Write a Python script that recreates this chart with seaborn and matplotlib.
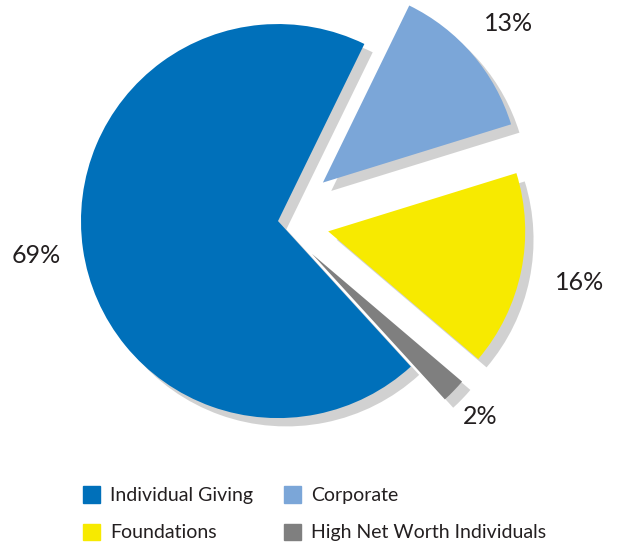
import numpy as np
import matplotlib.pyplot as plt
import matplotlib.patheffects as pe
from matplotlib.patches import Rectangle
import seaborn as sns

sns.set_theme(style="white")
plt.rcParams['font.family'] = ['Lato', 'DejaVu Sans']

# slices, clockwise from the top of the Corporate wedge
categories = ['Corporate', 'Foundations', 'High Net Worth Individuals', 'Individual Giving']
shares = [13, 16, 2, 69]
pct_labels = ['13%', '16%', '2%', '69%']
colors = ['#7ba6d8', '#f7ea00', '#7f7f7f', '#0070ba']
explode = [0.30, 0.26, 0.24, 0.0]
label_dist = [1.24, 1.30, 1.19, 1.24]
legend_order = ['Individual Giving', 'Foundations', 'Corporate', 'High Net Worth Individuals']

fig = plt.figure(figsize=(6.23, 5.42), dpi=100)
ax = fig.add_axes([0, 0, 1, 1])

wedges, _ = ax.pie(shares, colors=colors, explode=explode, startangle=64,
                   counterclock=False, radius=1.0,
                   wedgeprops={'linewidth': 0})

# soft drop shadow like the original artwork
shadow = [pe.SimplePatchShadow(offset=(6, -6), shadow_rgbFace='#9a9a9a', alpha=0.45),
          pe.Normal()]
for w in wedges:
    w.set_path_effects(shadow)

for w, txt, d in zip(wedges, pct_labels, label_dist):
    mid = np.deg2rad((w.theta1 + w.theta2) / 2)
    cx, cy = w.center
    ax.text(cx + d * np.cos(mid), cy + d * np.sin(mid), txt,
            ha='center', va='center', fontsize=18, color='#231f20')

ax.set_xlim(-1.411, 1.751)
ax.set_ylim(-1.629, 1.122)
ax.set_aspect('equal')
ax.axis('off')

handles = [Rectangle((0, 0), 1, 1, color=colors[categories.index(n)]) for n in legend_order]
fig.legend(handles, legend_order, ncol=2, loc='upper left',
           bbox_to_anchor=(0.12, 0.117), frameon=False, fontsize=14,
           handlelength=0.9, handleheight=0.9, handletextpad=0.5,
           columnspacing=1.6, labelspacing=1.0, labelcolor='#231f20',
           borderaxespad=0)

fig.savefig('out.png', dpi=100)
